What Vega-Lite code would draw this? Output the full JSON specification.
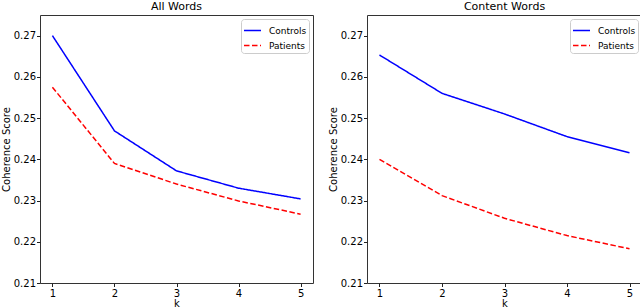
{
  "$schema": "https://vega.github.io/schema/vega-lite/v6.json",
  "padding": {"left": 0, "top": 0, "right": 0, "bottom": 0},
  "spacing": 13,
  "datasets": {
    "scores": [
      {"panel": "All Words", "k": 1, "group": "Controls", "score": 0.2700},
      {"panel": "All Words", "k": 2, "group": "Controls", "score": 0.2469},
      {"panel": "All Words", "k": 3, "group": "Controls", "score": 0.2372},
      {"panel": "All Words", "k": 4, "group": "Controls", "score": 0.2330},
      {"panel": "All Words", "k": 5, "group": "Controls", "score": 0.2304},
      {"panel": "All Words", "k": 1, "group": "Patients", "score": 0.2575},
      {"panel": "All Words", "k": 2, "group": "Patients", "score": 0.2390},
      {"panel": "All Words", "k": 3, "group": "Patients", "score": 0.2340},
      {"panel": "All Words", "k": 4, "group": "Patients", "score": 0.2299},
      {"panel": "All Words", "k": 5, "group": "Patients", "score": 0.2267},
      {"panel": "Content Words", "k": 1, "group": "Controls", "score": 0.2653},
      {"panel": "Content Words", "k": 2, "group": "Controls", "score": 0.2560},
      {"panel": "Content Words", "k": 3, "group": "Controls", "score": 0.2510},
      {"panel": "Content Words", "k": 4, "group": "Controls", "score": 0.2455},
      {"panel": "Content Words", "k": 5, "group": "Controls", "score": 0.2416},
      {"panel": "Content Words", "k": 1, "group": "Patients", "score": 0.2400},
      {"panel": "Content Words", "k": 2, "group": "Patients", "score": 0.2312},
      {"panel": "Content Words", "k": 3, "group": "Patients", "score": 0.2257},
      {"panel": "Content Words", "k": 4, "group": "Patients", "score": 0.2215},
      {"panel": "Content Words", "k": 5, "group": "Patients", "score": 0.2183}
    ]
  },
  "config": {
    "font": "DejaVu Sans",
    "view": {"stroke": "#333333", "strokeWidth": 1},
    "axis": {
      "domain": false,
      "grid": false,
      "ticks": true,
      "tickSize": 3.5,
      "tickColor": "#222222",
      "labelFont": "DejaVu Sans",
      "labelFontSize": 10,
      "labelColor": "#000000",
      "titleFont": "DejaVu Sans",
      "titleFontSize": 10,
      "titleFontWeight": "normal",
      "titleColor": "#000000"
    },
    "title": {"font": "DejaVu Sans", "fontSize": 11, "fontWeight": "normal", "color": "#000000", "offset": 3},
    "legend": {
      "orient": "top-right",
      "offset": 4,
      "fillColor": "white",
      "strokeColor": "#cccccc",
      "cornerRadius": 3,
      "padding": 2,
      "symbolType": "stroke",
      "symbolSize": 289,
      "symbolStrokeWidth": 1.5,
      "labelFont": "DejaVu Sans",
      "labelFontSize": 9,
      "labelColor": "#000000",
      "labelOffset": 7,
      "rowPadding": -1,
      "title": null
    }
  },
  "resolve": {"legend": {"color": "independent", "strokeDash": "independent"}},
  "hconcat": [
    {
      "title": "All Words",
      "width": 273,
      "height": 268,
      "data": {"name": "scores"},
      "transform": [{"filter": "datum.panel === 'All Words'"}],
      "mark": {"type": "line", "strokeWidth": 1.5},
      "encoding": {
        "x": {"field": "k", "type": "quantitative", "title": "k", "scale": {"domain": [0.8, 5.2], "nice": false, "zero": false}, "axis": {"values": [1, 2, 3, 4, 5], "format": "d", "labelPadding": 2, "titlePadding": 0}},
        "y": {"field": "score", "type": "quantitative", "title": "Coherence Score", "scale": {"domain": [0.21, 0.275], "nice": false, "zero": false}, "axis": {"values": [0.21, 0.22, 0.23, 0.24, 0.25, 0.26, 0.27], "format": ".2f", "labelPadding": 1, "titlePadding": 2}},
        "color": {"field": "group", "type": "nominal", "scale": {"domain": ["Controls", "Patients"], "range": ["#0000ff", "#ff0000"]}, "legend": {"title": null}},
        "strokeDash": {"field": "group", "type": "nominal", "scale": {"domain": ["Controls", "Patients"], "range": [[1, 0], [5.5, 2.5]]}, "legend": {"title": null}}
      }
    },
    {
      "title": "Content Words",
      "width": 275,
      "height": 268,
      "data": {"name": "scores"},
      "transform": [{"filter": "datum.panel === 'Content Words'"}],
      "mark": {"type": "line", "strokeWidth": 1.5},
      "encoding": {
        "x": {"field": "k", "type": "quantitative", "title": "k", "scale": {"domain": [0.8, 5.2], "nice": false, "zero": false}, "axis": {"values": [1, 2, 3, 4, 5], "format": "d", "labelPadding": 2, "titlePadding": 0}},
        "y": {"field": "score", "type": "quantitative", "title": "Coherence Score", "scale": {"domain": [0.21, 0.275], "nice": false, "zero": false}, "axis": {"values": [0.21, 0.22, 0.23, 0.24, 0.25, 0.26, 0.27], "format": ".2f", "labelPadding": 1, "titlePadding": 2}},
        "color": {"field": "group", "type": "nominal", "scale": {"domain": ["Controls", "Patients"], "range": ["#0000ff", "#ff0000"]}, "legend": {"title": null}},
        "strokeDash": {"field": "group", "type": "nominal", "scale": {"domain": ["Controls", "Patients"], "range": [[1, 0], [5.5, 2.5]]}, "legend": {"title": null}}
      }
    }
  ]
}
